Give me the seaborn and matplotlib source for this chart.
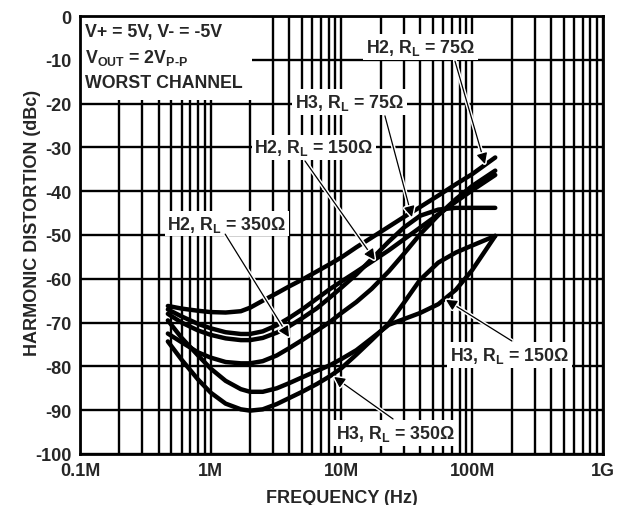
import numpy as np
import pandas as pd
import matplotlib
matplotlib.use("Agg")
import matplotlib.pyplot as plt
import matplotlib.patheffects as pe
from matplotlib.patches import Rectangle
import seaborn as sns

# frequency points (MHz) shared by all curves
freq_mhz = [0.47, 0.6, 0.8, 1.0, 1.3, 1.7, 2.0, 2.5, 3.2, 4.0, 5.0, 6.5, 8.2,
            10, 13, 17, 23, 30, 40, 55, 75, 100, 150]

# harmonic distortion in dBc
h2_75 = [-66.2, -66.8, -67.3, -67.6, -67.7, -67.4, -66.6, -65.0, -63.3, -61.7, -60.2, -58.3, -56.6,
         -55.1, -52.8, -50.6, -48.1, -45.9, -43.6, -41.0, -38.4, -36.1, -32.3]
h2_150 = [-67.0, -68.6, -70.3, -71.3, -72.2, -72.6, -72.6, -72.0, -70.6, -68.9, -67.0, -64.5, -62.3,
          -60.6, -58.4, -56.1, -53.5, -51.0, -48.3, -45.3, -42.4, -39.8, -36.3]
h3_75 = [-68.0, -70.0, -71.8, -72.8, -73.6, -74.0, -74.0, -73.5, -72.3, -70.8, -69.0, -66.7, -64.2,
         -62.0, -59.0, -55.5, -51.5, -48.3, -45.6, -44.2, -43.8, -43.8, -43.8]
h2_350 = [-72.5, -74.5, -76.8, -78.0, -79.0, -79.3, -79.3, -78.8, -77.5, -75.8, -74.0, -71.8, -69.8,
          -67.8, -65.3, -62.3, -58.3, -54.3, -49.8, -45.5, -41.8, -38.8, -35.3]
h3_150 = [-69.5, -73.5, -77.5, -80.5, -83.3, -85.2, -85.8, -85.8, -85.0, -83.8, -82.5, -81.0, -79.7,
          -78.3, -76.3, -73.6, -70.5, -69.2, -67.8, -65.8, -62.5, -58.0, -50.2]
h3_350 = [-74.3, -78.5, -83.0, -86.0, -88.5, -89.8, -90.1, -89.8, -88.6, -87.2, -85.8, -84.0, -82.2,
          -80.4, -77.3, -74.0, -70.2, -65.5, -60.2, -56.3, -54.0, -52.4, -50.2]

curves = {"H2 75": h2_75, "H2 150": h2_150, "H3 75": h3_75,
          "H2 350": h2_350, "H3 150": h3_150, "H3 350": h3_350}

rows = []
for name, vals in curves.items():
    for f, v in zip(freq_mhz, vals):
        rows.append({"curve": name, "freq": f * 1e6, "hd": v})
df = pd.DataFrame(rows)

xticks = [1e5, 1e6, 1e7, 1e8, 1e9]
xticklabels = ["0.1M", "1M", "10M", "100M", "1G"]
yticks = list(range(-100, 1, 10))

sns.set_style("white")
plt.rcParams["font.family"] = ["Liberation Sans", "DejaVu Sans"]
plt.rcParams["font.weight"] = "bold"
plt.rcParams["mathtext.fontset"] = "custom"
plt.rcParams["mathtext.rm"] = "Liberation Sans:bold"
plt.rcParams["mathtext.it"] = "Liberation Sans:bold"
plt.rcParams["mathtext.bf"] = "Liberation Sans:bold"

fig = plt.figure(figsize=(6.19, 5.06), dpi=100)
ax = fig.add_axes([0.1292, 0.1008, 0.8449, 0.8656])

sns.lineplot(data=df, x="freq", y="hd", hue="curve", palette=["black"] * 6,
             sort=False, estimator=None, legend=False, linewidth=3.2, ax=ax, zorder=4)

ax.set_xscale("log")
ax.set_xlim(1e5, 1e9)
ax.set_ylim(-100, 0)
ax.set_xticks(xticks)
ax.set_xticklabels(xticklabels)
ax.set_yticks(yticks)
ax.set_yticklabels([str(t) for t in yticks])
ax.xaxis.set_minor_locator(matplotlib.ticker.LogLocator(base=10, subs=np.arange(2, 10)))
ax.xaxis.set_minor_formatter(matplotlib.ticker.NullFormatter())
ax.grid(True, which="both", color="black", linewidth=1.7)
ax.set_axisbelow(True)
ax.tick_params(which="both", length=0, labelsize=13)
ax.tick_params(axis="x", pad=6)
ax.tick_params(axis="y", pad=6)
for s in ax.spines.values():
    s.set_color("black")
    s.set_linewidth(2)

ax.set_xlabel("FREQUENCY (Hz)", fontsize=13, fontweight="bold")
ax.set_ylabel("HARMONIC DISTORTION (dBc)", fontsize=13, fontweight="bold")
ax.xaxis.set_label_coords(0.5, -0.08)
ax.yaxis.set_label_coords(-0.075, 0.53)

# conditions box in the top left corner
ax.add_patch(Rectangle((1e5, -19.2), 2.07e6 - 1e5, 19.2, facecolor="white",
                       edgecolor="none", zorder=2))
ax.text(1.1e5, -3.5, "V+ = 5V, V- = -5V", fontsize=12.8, va="center", zorder=5)
ax.text(1.1e5, -9.4, r"V$_\mathrm{OUT}$ = 2V$_\text{P-P}$", fontsize=12.8, va="center", zorder=5)
ax.text(1.1e5, -15.1, "WORST CHANNEL", fontsize=12.8, va="center", zorder=5)

labels = [
    (r"H2, R$_\mathrm{L}$ = 75Ω", (40.5e6, -7.0), (73.8e6, -10.3), (125e6, -33.8)),
    (r"H3, R$_\mathrm{L}$ = 75Ω", (11.6e6, -19.6), (21.5e6, -22.8), (34.6e6, -45.9)),
    (r"H2, R$_\mathrm{L}$ = 150Ω", (6.16e6, -30.0), (5.26e6, -33.1), (18.0e6, -55.7)),
    (r"H2, R$_\mathrm{L}$ = 350Ω", (1.33e6, -47.4), (1.29e6, -49.8), (3.97e6, -73.3)),
    (r"H3, R$_\mathrm{L}$ = 150Ω", (194e6, -77.4), (201e6, -74.2), (63e6, -64.8)),
    (r"H3, R$_\mathrm{L}$ = 350Ω", (25.7e6, -95.2), (24.8e6, -92.0), (8.77e6, -82.4)),
]
for txt, pos, start, tip in labels:
    ax.text(pos[0], pos[1], txt, fontsize=12.8, ha="center", va="center", zorder=6,
            bbox=dict(facecolor="white", edgecolor="none", pad=2))
    ax.annotate("", xy=tip, xytext=start, zorder=7,
                arrowprops=dict(arrowstyle="-|>", color="black", lw=0.9,
                                mutation_scale=16, shrinkA=0, shrinkB=0,
                                path_effects=[pe.withStroke(linewidth=3, foreground="white")]))

plt.savefig("out.png", dpi=100)
